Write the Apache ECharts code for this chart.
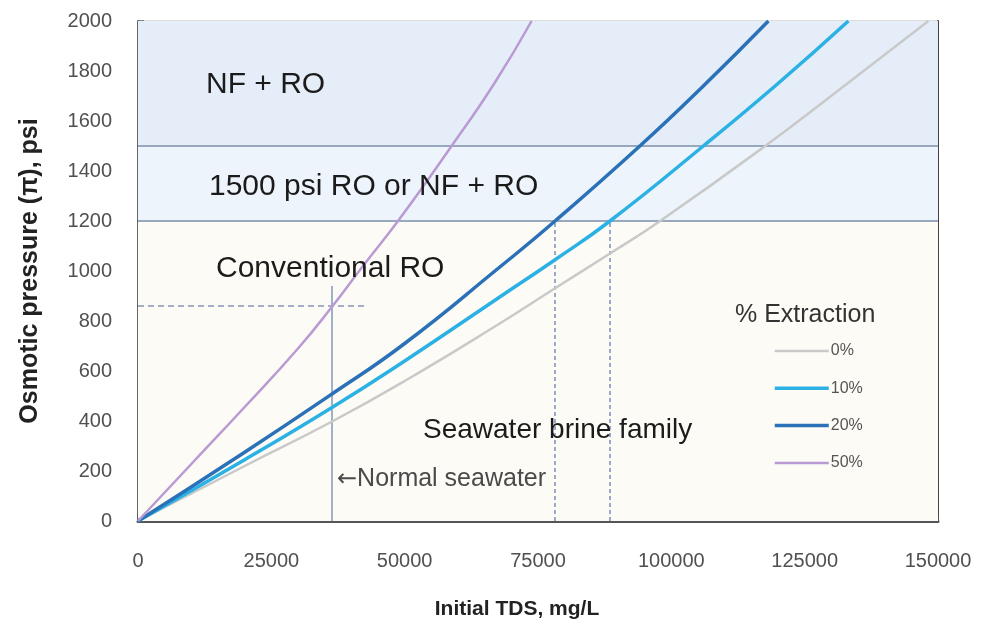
<!DOCTYPE html>
<html>
<head>
<meta charset="utf-8">
<script src="https://cdn.jsdelivr.net/npm/echarts@6/dist/echarts.min.js"></script>
<style>
    html, body { margin: 0; padding: 0; background: #fff; }
    #container { width: 986px; height: 626px; }
</style>
</head>
<body>
<div id="container"></div>
<script>
// curves: initial TDS (mg/L) -> osmotic pressure (psi)
var seriesNames = ['0%', '10%', '20%', '50%'];
var tds0 = [0, 20000, 36300, 50000, 67900, 78200, 88500, 97900, 117600, 133000, 148200];
var psi0 = [0, 220, 397, 560, 791, 931, 1070, 1200, 1500, 1750, 2000];
var tds10 = [0, 20000, 36300, 50000, 67900, 78200, 88500, 106000, 120000, 133200];
var psi10 = [0, 245, 453, 640, 897, 1045, 1200, 1500, 1750, 2000];
var tds20 = [0, 20000, 36300, 50000, 67900, 78200, 94100, 106000, 118200];
var psi20 = [0, 275, 507, 710, 1017, 1200, 1500, 1740, 2000];
var tds50 = [0, 10000, 20000, 30000, 36300, 42000, 49100, 58800, 66800, 73800];
var psi50 = [0, 228, 456, 690, 855, 1015, 1210, 1500, 1750, 2000];

// reference lines
var limitPsi = [1200, 1500];          // process limits
var seawaterTds = 36300;              // normal seawater
var seawaterTop = 940;
var seawaterPsi = 860;
var seawaterDashEnd = 42600;
var brineTds = [78200, 88500];        // brine family at 1200 psi

var font = '"Liberation Sans", Arial, sans-serif';
var colors = ['#c9c9c9', '#2cb1e4', '#2a71b7', '#b99ad2'];
var widths = [2.5, 3.5, 3.5, 2.5];

function zip(xs, ys) {
    return xs.map(function (x, i) { return [x, ys[i]]; });
}
var allData = [zip(tds0, psi0), zip(tds10, psi10), zip(tds20, psi20), zip(tds50, psi50)];

var dom = document.getElementById('container');
var myChart = echarts.init(dom, null, { renderer: 'canvas' });

var series = seriesNames.map(function (name, i) {
    return {
        name: name,
        type: 'line',
        data: allData[i],
        smooth: 0.5,
        symbol: 'none',
        z: 5 + i,
        lineStyle: { color: colors[i], width: widths[i] },
        itemStyle: { color: colors[i] }
    };
});

// background bands + reference lines on a helper series
series.push({
    name: 'ref',
    type: 'line',
    data: [],
    silent: true,
    z: 1,
    markArea: {
        silent: true,
        itemStyle: { opacity: 1 },
        data: [
            [{ yAxis: 0, itemStyle: { color: '#fcfbf6' } }, { yAxis: limitPsi[0] }],
            [{ yAxis: limitPsi[0], itemStyle: { color: '#edf4fb' } }, { yAxis: limitPsi[1] }],
            [{ yAxis: limitPsi[1], itemStyle: { color: '#e5eef8' } }, { yAxis: 2000 }]
        ]
    },
    markLine: {
        silent: true,
        symbol: 'none',
        label: { show: false },
        data: [
            { yAxis: limitPsi[0], lineStyle: { color: '#7b8ea9', width: 1.5, type: 'solid' } },
            { yAxis: limitPsi[1], lineStyle: { color: '#7b8ea9', width: 1.5, type: 'solid' } },
            [{ coord: [seawaterTds, 0], lineStyle: { color: '#7f97bb', width: 1.5, type: 'solid' } },
             { coord: [seawaterTds, seawaterTop] }],
            [{ coord: [0, seawaterPsi], lineStyle: { color: '#8597b8', width: 1.5, type: [6, 4] } },
             { coord: [seawaterDashEnd, seawaterPsi] }],
            [{ coord: [brineTds[0], 0], lineStyle: { color: '#7d90b5', width: 1.5, type: [4, 3] } },
             { coord: [brineTds[0], limitPsi[0]] }],
            [{ coord: [brineTds[1], 0], lineStyle: { color: '#7d90b5', width: 1.5, type: [4, 3] } },
             { coord: [brineTds[1], limitPsi[0]] }]
        ]
    }
});

function note(text, left, y, size, color) {
    return {
        type: 'text',
        left: left,
        top: y - size / 2 + 2,
        z: 20,
        style: {
            text: text,
            fill: color || '#1b1b1b',
            font: size + 'px ' + font
        }
    };
}

// the arrow needs a font with a long arrow glyph
var seawaterNote = {
    type: 'text',
    left: 337,
    top: 467,
    z: 20,
    style: {
        text: '{a|\u2190}{t|Normal seawater}',
        rich: {
            a: { fontFamily: '"DejaVu Sans"', fontSize: 24, fill: '#4a4a4a', color: '#4a4a4a' },
            t: { fontFamily: font, fontSize: 25, fill: '#4a4a4a', color: '#4a4a4a' }
        }
    }
};

var noCommas = function (v) { return String(v); };

var option = {
    animation: false,
    backgroundColor: '#fff',
    grid: {
        left: 138, right: 48, top: 21, bottom: 105,
        show: true,
        borderColor: '#b8b8b8',
        borderWidth: 1
    },
    legend: {
        orient: 'vertical',
        left: 773,
        top: 343,
        padding: 0,
        data: seriesNames.map(function (n, i) {
            return { name: n, lineStyle: { width: widths[i], color: colors[i] } };
        }),
        itemWidth: 54,
        itemHeight: 16,
        itemGap: 21.3,
        itemStyle: { opacity: 0 },
        textStyle: { fontFamily: font, fontSize: 16, color: '#555', padding: [0, 0, 0, -3] }
    },
    xAxis: {
        type: 'value',
        min: 0,
        max: 150000,
        interval: 25000,
        axisLine: { show: true, onZero: false, lineStyle: { color: '#555', width: 3 } },
        axisTick: { show: true, inside: true, length: 7, lineStyle: { color: '#555', width: 1.5 } },
        minorTick: { show: true, splitNumber: 5, length: 4, lineStyle: { color: '#555', width: 1.5 } },
        splitLine: { show: false },
        axisLabel: { fontFamily: font, fontSize: 20, color: '#505050', margin: 30, formatter: noCommas },
        name: 'Initial TDS, mg/L',
        nameLocation: 'middle',
        nameGap: 78,
        nameTextStyle: { fontFamily: font, fontSize: 21, fontWeight: 'bold', color: '#222', padding: [0, 42, 0, 0] }
    },
    yAxis: [{
        type: 'value',
        min: 0,
        max: 2000,
        interval: 200,
        axisLine: { show: true, lineStyle: { color: '#666', width: 2 } },
        axisTick: { show: true, inside: true, length: 6, lineStyle: { color: '#666', width: 1.5 } },
        splitLine: { show: false },
        axisLabel: { fontFamily: font, fontSize: 20, color: '#505050', margin: 26, formatter: noCommas },
        name: 'Osmotic pressure (\u03c0), psi',
        nameLocation: 'middle',
        nameGap: 95,
        nameTextStyle: { fontFamily: font, fontSize: 25, fontWeight: 'bold', color: '#222' }
    }, {
        type: 'value',
        position: 'right',
        min: 0,
        max: 2000,
        axisLine: { show: true, lineStyle: { color: '#444', width: 2 } },
        axisTick: { show: false },
        axisLabel: { show: false },
        splitLine: { show: false }
    }],
    graphic: [
        note('NF + RO', 206, 83, 30),
        note('1500 psi RO or NF + RO', 209, 185, 30),
        note('Conventional RO', 216, 267, 30),
        note('Seawater brine family', 423, 428, 28),
        seawaterNote,
        note('% Extraction', 735, 313, 25, '#333')
    ],
    series: series
};

myChart.setOption(option);
window.addEventListener('resize', myChart.resize);
</script>
</body>
</html>
